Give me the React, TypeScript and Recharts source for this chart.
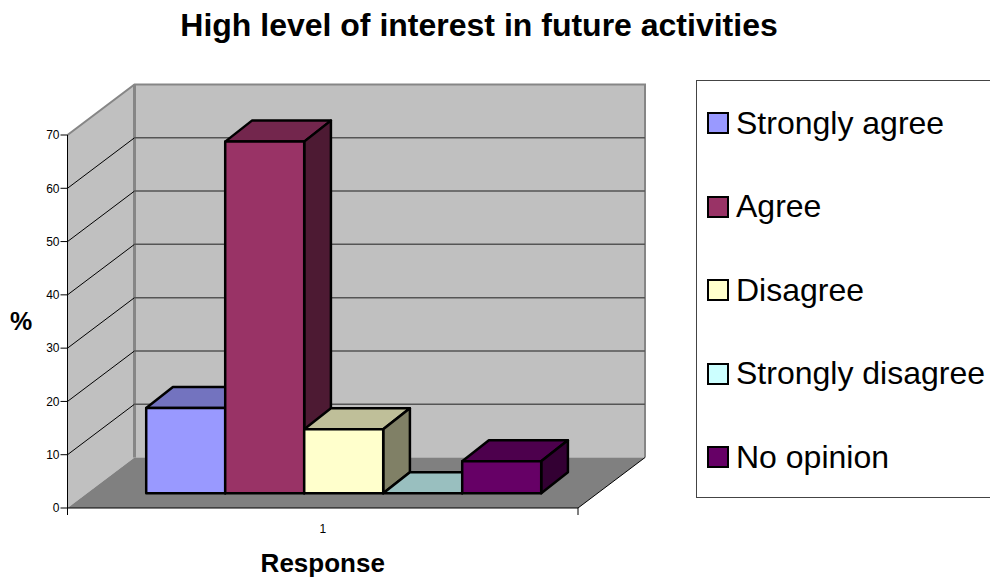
import React from "react";
import { BarChart, Bar, XAxis, YAxis, Legend, ReferenceArea, ReferenceLine } from "recharts";

const categories = ["1"];
const seriesNames = ["Strongly agree", "Agree", "Disagree", "Strongly disagree", "No opinion"];
const seriesValues = [16, 66, 12, 0, 6];
const seriesColors = ["#9999FF", "#993366", "#FFFFCC", "#CCFFFF", "#660066"];
const yTicks = [0, 10, 20, 30, 40, 50, 60, 70];
const gridValues = [10, 20, 30, 40, 50, 60];

const FONT = "'Liberation Sans', Arial, sans-serif";
const WALL_DX = 67;
const WALL_DY = -50.5;
const BAR_DX = 20;
const BAR_DY = -14.7;
const DEPTH_DX = 26.7;
const DEPTH_DY = -21;

const data = categories.map((c) => {
  const row: Record<string, string | number> = { category: c };
  seriesNames.forEach((n, i) => (row[n] = seriesValues[i]));
  return row;
});

function shade(hex: string, k: number) {
  const n = parseInt(hex.slice(1), 16);
  const f = (v: number) => Math.round(v * k);
  return `rgb(${f((n >> 16) & 255)},${f((n >> 8) & 255)},${f(n & 255)})`;
}

function Bar3D(props: any) {
  const { x, y, width, height, fill } = props;
  const l = x + BAR_DX;
  const r = l + width;
  const t = y + BAR_DY;
  const b = t + height;
  const s = { stroke: "#000", strokeWidth: 2.5, strokeLinejoin: "round" as const };
  return (
    <g>
      <path d={`M${l},${t} L${l + DEPTH_DX},${t + DEPTH_DY} H${r + DEPTH_DX} L${r},${t} Z`} fill={shade(fill, 0.75)} {...s} />
      <path d={`M${r},${t} L${r + DEPTH_DX},${t + DEPTH_DY} V${b + DEPTH_DY} L${r},${b} Z`} fill={shade(fill, 0.5)} {...s} />
      <rect x={l} y={t} width={width} height={height} fill={fill} {...s} />
    </g>
  );
}

function Walls(props: any) {
  const { x, y, width, height } = props;
  const r = x + width;
  const b = y + height;
  const bx = x + WALL_DX;
  const by = y + WALL_DY;
  const bb = b + WALL_DY;
  const br = r + WALL_DX;
  return (
    <g>
      <path d={`M${x},${y} L${bx},${by} V${bb} L${x},${b} Z`} fill="#C0C0C0" />
      <rect x={bx} y={by} width={width} height={height} fill="#C0C0C0" />
      <path d={`M${x},${b} L${bx},${bb} H${br} L${r},${b} Z`} fill="#808080" />
      <path d={`M${x},${y} L${bx},${by} H${br} V${bb}`} fill="none" stroke="#868686" strokeWidth={2} />
      <path d={`M${bx},${by} V${bb}`} fill="none" stroke="#868686" strokeWidth={3} />
      <path d={`M${r},${b} L${br},${bb}`} fill="none" stroke="#000" strokeWidth={1} />
      <path d={`M${x},${b} V${b + 7} M${r},${b} V${b + 7}`} fill="none" stroke="#000" strokeWidth={1} />
    </g>
  );
}

function GridLine(props: any) {
  const { x1, y1, x2, y2 } = props;
  return (
    <g>
      <path d={`M${x1},${y1} L${x1 + WALL_DX},${y1 + WALL_DY}`} fill="none" stroke="#000" strokeWidth={1} />
      <path d={`M${x1 + WALL_DX},${y1 + WALL_DY} H${x2 + WALL_DX}`} fill="none" stroke="#555" strokeWidth={1.5} />
    </g>
  );
}

function LegendBox(props: any) {
  const payload = props.payload ?? [];
  return (
    <div
      style={{
        boxSizing: "border-box",
        width: 296,
        height: 418,
        border: "1px solid #444",
        borderRightWidth: 0,
        background: "#fff",
        position: "relative",
        fontFamily: FONT,
        fontSize: 32,
        color: "#000",
      }}
    >
      {payload.map((p: any, i: number) => (
        <div key={p.value} style={{ position: "absolute", left: 10, top: 25 + i * 83.5, height: 34, display: "flex", alignItems: "center", whiteSpace: "nowrap" }}>
          <span style={{ boxSizing: "border-box", width: 22, height: 22, background: p.color, border: "2px solid #000", marginRight: 7, display: "inline-block" }} />
          {p.value}
        </div>
      ))}
    </div>
  );
}

export default function App() {
  return (
    <div style={{ position: "absolute", left: 0, top: 0, width: 990, height: 578, background: "#fff", overflow: "hidden" }}>
      <div style={{ position: "absolute", left: 0, width: 958, top: 8, textAlign: "center", fontFamily: FONT, fontWeight: 700, fontSize: 32, color: "#000", lineHeight: "34px" }}>
        High level of interest in future activities
      </div>
      <BarChart
        width={990}
        height={578}
        data={data}
        margin={{ top: 135, right: 116, bottom: 0, left: 0 }}
        barCategoryGap="11.5%"
        barGap={0}
        style={{ fontFamily: FONT }}
      >
        <XAxis
          dataKey="category"
          tickLine={false}
          axisLine={{ stroke: "#000" }}
          tick={{ fill: "#000", fontSize: 12, fontFamily: FONT }}
          tickMargin={10}
          height={70}
          label={{ value: "Response", position: "insideBottom", offset: 6, fill: "#000", fontSize: 26, fontWeight: 700, fontFamily: FONT }}
        />
        <YAxis
          width={67.5}
          domain={[0, 70]}
          ticks={yTicks}
          interval={0}
          tickSize={7}
          tickLine={{ stroke: "#000" }}
          axisLine={{ stroke: "#000" }}
          tick={{ fill: "#000", fontSize: 12, fontFamily: FONT }}
          tickMargin={1}
          label={{ value: "%", position: "insideLeft", offset: 10, fill: "#000", fontSize: 25, fontWeight: 700, fontFamily: FONT }}
        />
        <ReferenceArea y1={0} y2={70} shape={<Walls />} ifOverflow="visible" zIndex={50} />
        {gridValues.map((v) => (
          <ReferenceLine key={v} y={v} shape={<GridLine />} ifOverflow="visible" zIndex={60} />
        ))}
        {seriesNames.map((n, i) => (
          <Bar key={n} dataKey={n} name={n} fill={seriesColors[i]} shape={<Bar3D />} isAnimationActive={false} minPointSize={0} />
        ))}
        <Legend
          layout="vertical"
          align="right"
          verticalAlign="top"
          width={296}
          itemSorter={null}
          content={<LegendBox />}
          wrapperStyle={{ left: 696, top: 80, right: "auto", width: 296 }}
        />
      </BarChart>
    </div>
  );
}
